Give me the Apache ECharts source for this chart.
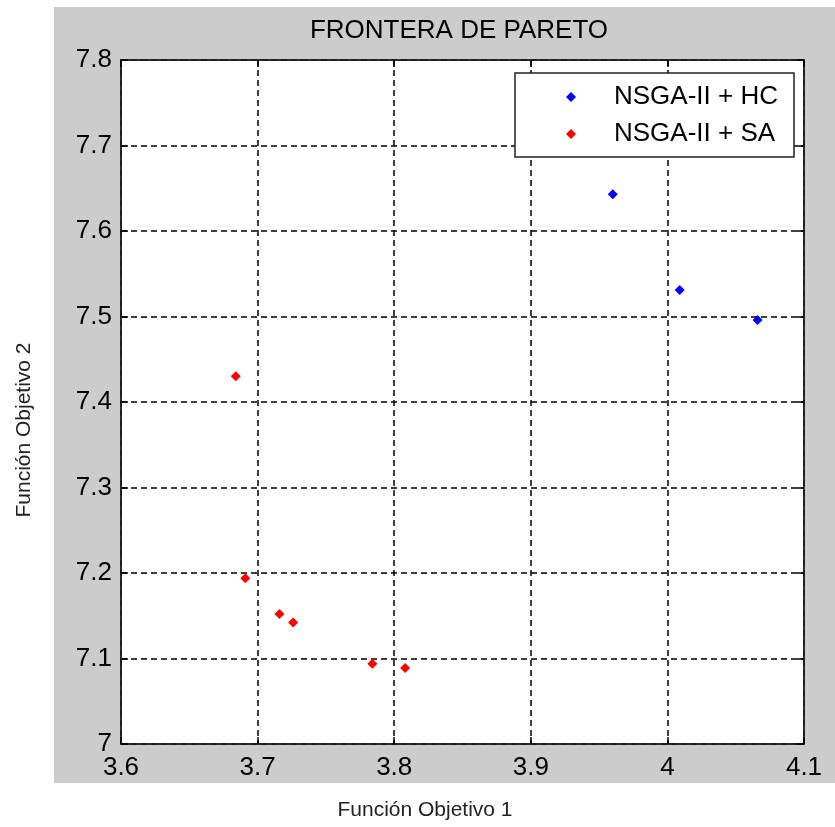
<!DOCTYPE html>
<html>
<head>
<meta charset="utf-8">
<script src="https://cdn.jsdelivr.net/npm/echarts@6/dist/echarts.min.js"></script>
<style>
html,body{margin:0;padding:0;background:#fff;}
#chart{width:835px;height:827px;}
</style>
</head>
<body>
<div id="chart"></div>
<script>
// Data
const seriesNames = ['NSGA-II + HC', 'NSGA-II + SA'];
const hcX = [3.960, 4.009, 4.066];
const hcY = [7.643, 7.531, 7.496];
const saX = [3.684, 3.691, 3.716, 3.726, 3.784, 3.808];
const saY = [7.430, 7.194, 7.152, 7.142, 7.094, 7.089];
const xTicks = [3.6, 3.7, 3.8, 3.9, 4.0, 4.1];
const yTicks = [7.0, 7.1, 7.2, 7.3, 7.4, 7.5, 7.6, 7.7, 7.8];
const titleText = 'FRONTERA DE PARETO';
const xTitle = 'Función Objetivo 1';
const yTitle = 'Función Objetivo 2';

const pairs = (xs, ys) => xs.map((x, i) => [x, ys[i]]);
const FONT = 'Liberation Sans, Arial, sans-serif';
const dashed = {show: true, lineStyle: {color: '#000', width: 1.5, type: [6, 4]}};
const tickIn = {show: true, inside: true, length: 7, lineStyle: {color: '#000', width: 1.5}};
const axisLine = {show: true, lineStyle: {color: '#222', width: 1.5}};

const chart = echarts.init(document.getElementById('chart'), null, {renderer: 'canvas'});
chart.setOption({
  animation: false,
  backgroundColor: '#fff',
  graphic: [
    {type: 'rect', z: -10, shape: {x: 54, y: 7, width: 781, height: 776}, style: {fill: '#cccccc'}},
    {type: 'rect', z: 10, shape: {x: 515, y: 73, width: 279, height: 84}, style: {fill: '#fff', stroke: '#222', lineWidth: 1.5}},
    {type: 'text', z: 10, x: 459, y: 31, style: {text: titleText, font: '26px ' + FONT, fill: '#000', textAlign: 'center', textVerticalAlign: 'middle'}},
    {type: 'text', z: 10, x: 425, y: 810, style: {text: xTitle, font: '21px ' + FONT, fill: '#222', textAlign: 'center', textVerticalAlign: 'middle'}},
    {type: 'text', z: 10, x: 24, y: 430, rotation: Math.PI / 2, style: {text: yTitle, font: '21px ' + FONT, fill: '#222', textAlign: 'center', textVerticalAlign: 'middle'}}
  ],
  grid: {left: 121, right: 31, top: 60, bottom: 83, show: true, backgroundColor: '#fff', borderColor: '#222', borderWidth: 1.5},
  legend: {
    z: 20, orient: 'vertical', left: 515, top: 73,
    padding: [11, 14, 10, 51], itemGap: 11, itemWidth: 10, itemHeight: 10,
    data: seriesNames.map(n => ({name: n, icon: 'diamond'})),
    textStyle: {fontSize: 26, fontFamily: FONT, color: '#000', lineHeight: 26, padding: [0, 0, 0, 33]}
  },
  xAxis: [
    {type: 'value', position: 'bottom', min: xTicks[0], max: xTicks[xTicks.length - 1], interval: 0.1,
     axisLine: axisLine, axisTick: tickIn, splitLine: dashed,
     axisLabel: {fontSize: 26, fontFamily: FONT, color: '#000', margin: 11,
       formatter: v => { const t = xTicks.find(k => Math.abs(k - v) < 1e-6); return t === undefined ? '' : String(t); }}},
    {type: 'value', position: 'top', min: xTicks[0], max: xTicks[xTicks.length - 1], interval: 0.1,
     axisLine: axisLine, axisTick: tickIn, splitLine: {show: false}, axisLabel: {show: false}}
  ],
  yAxis: [
    {type: 'value', position: 'left', min: yTicks[0], max: yTicks[yTicks.length - 1], interval: 0.1,
     axisLine: axisLine, axisTick: tickIn, splitLine: dashed,
     axisLabel: {fontSize: 26, fontFamily: FONT, color: '#000', margin: 9,
       formatter: v => { const t = yTicks.find(k => Math.abs(k - v) < 1e-6); return t === undefined ? '' : String(t); }}},
    {type: 'value', position: 'right', min: yTicks[0], max: yTicks[yTicks.length - 1], interval: 0.1,
     axisLine: axisLine, axisTick: tickIn, splitLine: {show: false}, axisLabel: {show: false}}
  ],
  series: [
    {name: seriesNames[0], type: 'scatter', symbol: 'diamond', symbolSize: 10, itemStyle: {color: '#0000ff', opacity: 1}, data: pairs(hcX, hcY)},
    {name: seriesNames[1], type: 'scatter', symbol: 'diamond', symbolSize: 10, itemStyle: {color: '#ff0000', opacity: 1}, data: pairs(saX, saY)}
  ]
});
</script>
</body>
</html>
